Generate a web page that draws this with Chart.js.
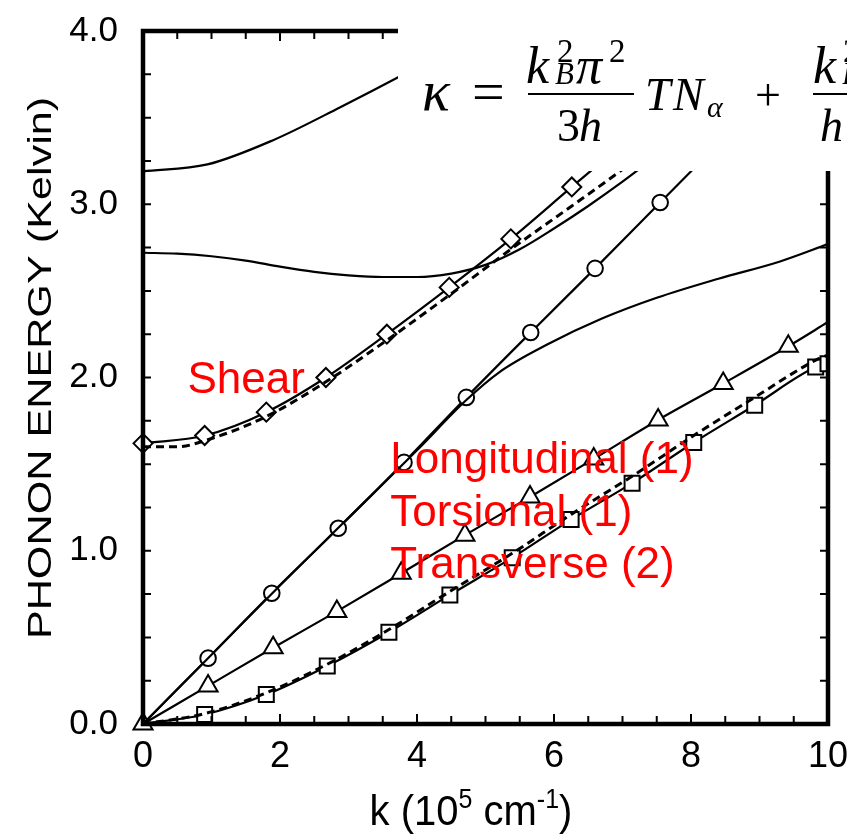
<!DOCTYPE html>
<html>
<head>
<meta charset="utf-8">
<script src="https://cdn.jsdelivr.net/npm/chart.js@4.4.1/dist/chart.umd.min.js"></script>
<style>
  html, body { margin: 0; padding: 0; background: #fff; }
  #wrap { width: 847px; height: 835px; }
</style>
</head>
<body>
<div id="wrap"><canvas id="chart" width="847" height="835"></canvas></div>
<script>
// --- data (k in 10^5 cm^-1, energy in Kelvin) ---
const kUpper = [0, 0.94, 1.9, 2.88, 3.76, 4.5];
const eUpper = [3.19, 3.23, 3.37, 3.56, 3.74, 3.9];

const kMid = [0, 0.5, 1, 1.5, 2, 2.5, 3, 3.5, 4, 4.5, 5, 5.5, 6, 6.5, 7, 7.5];
const eMid = [2.72, 2.715, 2.70, 2.675, 2.64, 2.61, 2.59, 2.58, 2.58, 2.60, 2.65, 2.74, 2.86, 2.99, 3.13, 3.28];

const kShear = [0, 0.9, 1.8, 2.67, 3.56, 4.47, 5.37, 6.26, 6.8];
const eShear = [1.62, 1.665, 1.80, 2.00, 2.25, 2.52, 2.80, 3.10, 3.28];
const kShearDash = [0, 0.5, 0.9, 1.8, 2.67, 3.56, 4.47, 5.37, 6.26, 6.86, 7.3];
const eShearDash = [1.60, 1.60, 1.635, 1.775, 1.975, 2.215, 2.475, 2.74, 2.99, 3.16, 3.29];

const kLong = [0, 0.95, 1.88, 2.85, 3.81, 4.72, 5.66, 6.6, 7.55, 8.2];
const eLong = [0, 0.38, 0.755, 1.13, 1.51, 1.885, 2.26, 2.63, 3.01, 3.27];
const kLongFit = [0, 1, 2, 3, 4, 4.72, 5.2, 5.9, 6.7, 7.5, 8.4, 9.3, 10];
const eLongFit = [0, 0.40, 0.80, 1.19, 1.58, 1.87, 2.03, 2.19, 2.34, 2.46, 2.57, 2.67, 2.77];

const kTors = [0, 0.95, 1.9, 2.83, 3.77, 4.7, 5.65, 6.58, 7.52, 8.47, 9.42, 10];
const eTors = [0, 0.22, 0.44, 0.65, 0.87, 1.09, 1.31, 1.53, 1.755, 1.965, 2.18, 2.32];

const kTrans = [0, 0.9, 1.8, 2.69, 3.59, 4.48, 5.39, 6.25, 7.14, 8.04, 8.93, 9.82, 10];
const eTrans = [0, 0.055, 0.17, 0.335, 0.53, 0.745, 0.96, 1.18, 1.39, 1.625, 1.84, 2.06, 2.08];
const kTransDash = [0, 0.9, 1.8, 2.69, 3.59, 4.48, 5.39, 6.25, 7.14, 8.04, 8.93, 9.82, 10];
const eTransDash = [0, 0.06, 0.18, 0.345, 0.545, 0.765, 0.985, 1.21, 1.43, 1.665, 1.885, 2.10, 2.13];

const xTicks = [0, 2, 4, 6, 8, 10];
const yTicks = [0, 1, 2, 3, 4];

// red annotations, placed in data units (k, energy at baseline)
const labels = [
  { text: 'Shear', k: 0.65, e: 1.91 },
  { text: 'Longitudinal (1)', k: 3.61, e: 1.447 },
  { text: 'Torsional (1)', k: 3.61, e: 1.141 },
  { text: 'Transverse (2)', k: 3.61, e: 0.841 }
];

const pts = (ks, es) => ks.map((k, i) => ({ x: k, y: es[i] }));
const sans = "'Liberation Sans', Arial, Helvetica, sans-serif";
const serif = "'Liberation Serif', 'Times New Roman', serif";

function solid(data, extra) {
  return Object.assign({
    data: data, showLine: true, borderColor: '#000', borderWidth: 2.2,
    cubicInterpolationMode: 'monotone', pointRadius: 0,
    pointBackgroundColor: '#fff', pointBorderColor: '#000', pointBorderWidth: 2,
    clip: { left: 14, top: 0, right: 0, bottom: 14 }
  }, extra || {});
}
function dashed(data) {
  return solid(data, { borderDash: [8, 5], borderWidth: 3 });
}

// inward ticks, frame, titles, labels and the formula box
const decor = {
  id: 'decor',
  afterDatasetsDraw(chart) {
    const c = chart.ctx, a = chart.chartArea;
    const xs = chart.scales.x, ys = chart.scales.y;
    c.save();
    c.strokeStyle = '#000';
    c.lineWidth = 2;
    xs.ticks.forEach(t => {
      const p = xs.getPixelForValue(t.value);
      const len = xTicks.includes(t.value) ? 10 : 8;
      c.beginPath();
      c.moveTo(p, a.bottom); c.lineTo(p, a.bottom - len);
      c.moveTo(p, a.top); c.lineTo(p, a.top + len);
      c.stroke();
    });
    ys.ticks.forEach(t => {
      const p = ys.getPixelForValue(t.value);
      c.beginPath();
      c.moveTo(a.left, p); c.lineTo(a.left + 8, p);
      c.moveTo(a.right, p); c.lineTo(a.right - 8, p);
      c.stroke();
    });
    c.lineWidth = 4.5;
    c.strokeRect(a.left, a.top, a.right - a.left, a.bottom - a.top);

    // red annotations
    c.fillStyle = '#ff0000';
    c.font = '44px ' + sans;
    c.textAlign = 'left';
    c.textBaseline = 'alphabetic';
    labels.forEach(l => c.fillText(l.text, xs.getPixelForValue(l.k), ys.getPixelForValue(l.e)));

    // axis titles (figure text is stretched vertically)
    c.fillStyle = '#000';
    c.save();
    c.translate(51, 368);
    c.rotate(-Math.PI / 2);
    c.scale(1.27, 1);
    c.font = '34px ' + sans;
    c.textAlign = 'center';
    c.fillText('PHONON ENERGY (Kelvin)', 0, 0);
    c.restore();

    c.save();
    const parts = [
      { s: 'k (10', size: 40, dy: 0 },
      { s: '5', size: 25, dy: -16 },
      { s: ' cm', size: 40, dy: 0 },
      { s: '-1', size: 25, dy: -16 },
      { s: ')', size: 40, dy: 0 }
    ];
    let w = 0;
    parts.forEach(p => { c.font = p.size + 'px ' + sans; p.w = c.measureText(p.s).width; w += p.w; });
    c.translate(471 - w / 2, 825);
    c.scale(1, 1.08);
    c.textAlign = 'left';
    let x = 0;
    parts.forEach(p => { c.font = p.size + 'px ' + sans; c.fillText(p.s, x, p.dy); x += p.w; });
    c.restore();

    // pasted formula box
    c.fillStyle = '#fff';
    c.fillRect(398, 0, 449, 171);
    c.fillStyle = '#000';
    const t = (s, x, y, size, it) => {
      c.font = (it ? 'italic ' : '') + size + 'px ' + serif;
      c.fillText(s, x, y);
    };
    t('\u03BA', 422, 110, 58, true);
    t('=', 472, 111, 58, false);
    t('k', 526, 83, 52, true);
    t('2', 557, 62, 33, false);
    t('B', 555, 84, 31, true);
    t('\u03C0', 576, 83, 52, true);
    t('2', 609, 62, 33, false);
    c.fillRect(528, 93, 106, 2);
    t('3', 557, 141, 46, false);
    t('h', 579, 141, 46, true);
    t('T', 645, 110, 46, true);
    t('N', 673, 110, 46, true);
    t('\u03B1', 707, 117, 30, true);
    t('+', 755, 110, 46, false);
    t('k', 813, 83, 52, true);
    t('2', 843, 62, 33, false);
    t('B', 842, 84, 31, true);
    c.fillRect(813, 93, 40, 2);
    t('h', 820, 141, 46, true);
    c.restore();
  }
};

new Chart(document.getElementById('chart'), {
  type: 'scatter',
  data: {
    datasets: [
      dashed(pts(kShearDash, eShearDash)),
      dashed(pts(kTransDash, eTransDash)),
      solid(pts(kUpper, eUpper)),
      solid(pts(kMid, eMid)),
      solid(pts(kLongFit, eLongFit)),
      solid(pts(kShear, eShear), {
        pointStyle: 'rectRot', pointRadius: kShear.map((_, i) => i < 8 ? 9.5 : 0)
      }),
      solid(pts(kLong, eLong), {
        pointStyle: 'circle', pointRadius: kLong.map((_, i) => i > 0 && i < 9 ? 7.8 : 0)
      }),
      solid(pts(kTors, eTors), {
        pointStyle: 'triangle', pointRadius: kTors.map((_, i) => i < 11 ? 11 : 0)
      }),
      solid(pts(kTrans, eTrans), {
        pointStyle: 'rect', pointRadius: kTrans.map((_, i) => i > 0 ? 10.6 : 0)
      })
    ]
  },
  options: {
    responsive: false,
    animation: false,
    devicePixelRatio: 1,
    layout: { padding: { top: 31, right: 19, left: 0, bottom: 0 } },
    plugins: { legend: { display: false }, tooltip: { enabled: false } },
    scales: {
      x: {
        type: 'linear', min: 0, max: 10,
        grid: { display: false, drawTicks: false },
        border: { display: false },
        ticks: {
          stepSize: 0.5, autoSkip: false, maxRotation: 0, padding: 11, color: '#000',
          font: { family: sans, size: 36 },
          callback: v => xTicks.includes(v) ? String(v) : ''
        },
        afterFit: s => { s.height = 111; s.paddingLeft = 0; s.paddingRight = 0; }
      },
      y: {
        type: 'linear', min: 0, max: 4,
        grid: { display: false, drawTicks: false },
        border: { display: false },
        ticks: {
          stepSize: 0.25, autoSkip: false, padding: 25, color: '#000',
          font: { family: sans, size: 35 },
          callback: v => yTicks.includes(v) ? v.toFixed(1) : ''
        },
        afterFit: s => { s.width = 143; s.paddingTop = 0; s.paddingBottom = 0; }
      }
    }
  },
  plugins: [decor]
});
</script>
</body>
</html>
